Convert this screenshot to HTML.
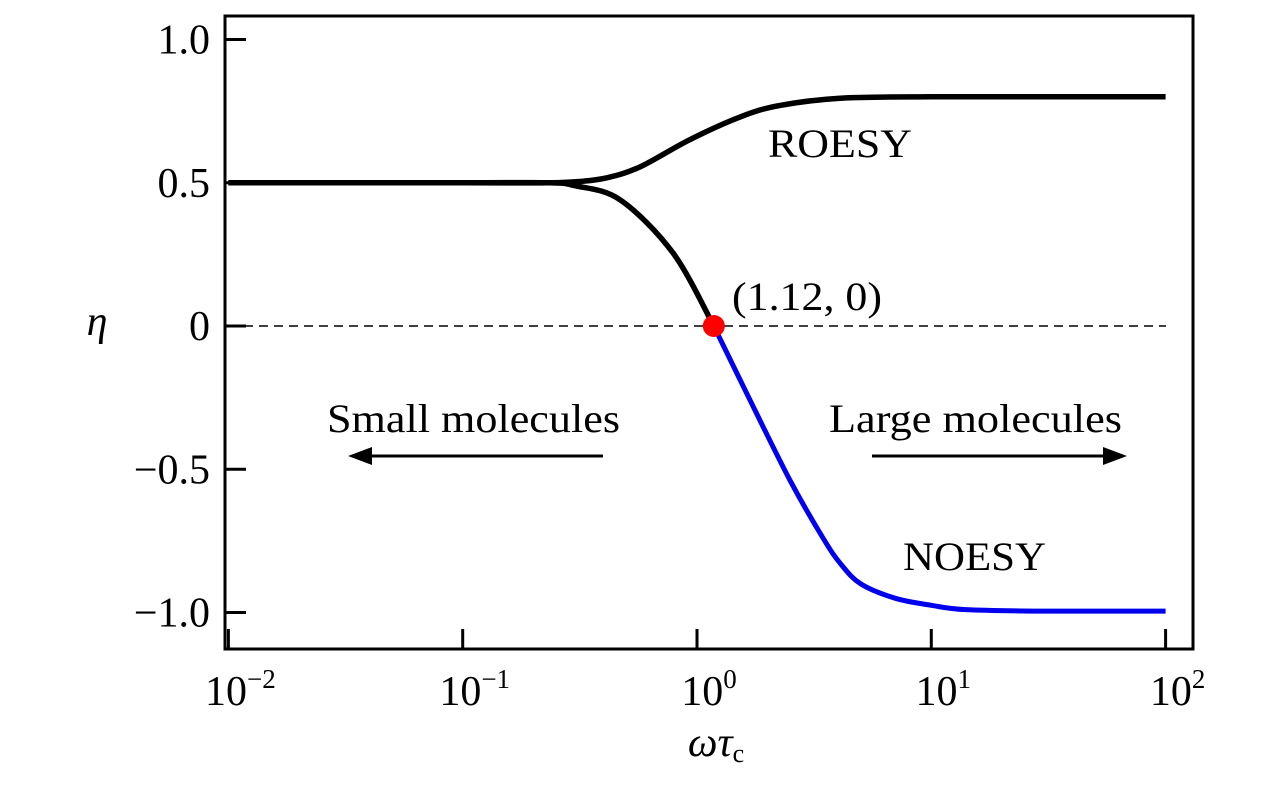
<!DOCTYPE html>
<html><head><meta charset="utf-8"><style>
body{margin:0;background:#fff}
svg text{font-family:"Liberation Serif",serif;fill:#000}
</style></head><body>
<svg id="chart" width="1276" height="787" viewBox="0 0 1276 787" xmlns="http://www.w3.org/2000/svg">
<rect x="225" y="16" width="968" height="633" fill="none" stroke="#000" stroke-width="3"/>
<g id="ticks"></g>
<line x1="229" x2="1166" y1="326" y2="326" stroke="#000" stroke-width="1.5" stroke-dasharray="9,6"/>
<path id="roesy" fill="none" stroke="#000" stroke-width="5.5" stroke-linejoin="round"/>
<path id="noesyTop" fill="none" stroke="#000" stroke-width="5.5" stroke-linejoin="round"/>
<path id="noesyBot" fill="none" stroke="#0000ee" stroke-width="5" stroke-linejoin="round"/>
<circle id="cross" r="11" fill="#ff0000"/>
<text x="768" y="157" font-size="40" textLength="144" lengthAdjust="spacingAndGlyphs">ROESY</text>
<text x="903" y="570" font-size="40" textLength="143" lengthAdjust="spacingAndGlyphs">NOESY</text>
<text x="732" y="310" font-size="40" textLength="150" lengthAdjust="spacingAndGlyphs">(1.12, 0)</text>
<text x="327" y="432" font-size="40" textLength="293" lengthAdjust="spacingAndGlyphs">Small molecules</text>
<text x="829" y="432" font-size="40" textLength="293" lengthAdjust="spacingAndGlyphs">Large molecules</text>
<g><line x1="603" x2="368" y1="456" y2="456" stroke="#000" stroke-width="3"/><polygon points="348,456 372,447 372,465" fill="#000"/></g>
<g><line x1="872" x2="1107" y1="456" y2="456" stroke="#000" stroke-width="3"/><polygon points="1127,456 1103,447 1103,465" fill="#000"/></g>
<text x="97" y="335" font-size="42" font-style="italic" text-anchor="middle">η</text>
<text x="716" y="756" font-size="42" text-anchor="middle"><tspan font-style="italic">ωτ</tspan><tspan font-size="26" dy="6">c</tspan></text>
</svg>
<script>
const xTickExps=[-2,-1,0,1,2];
const yTicks=[1.0,0.5,0,-0.5,-1.0];
const yTickLabels=["1.0","0.5","0","\u22120.5","\u22121.0"];
const roesyX=[0.01,0.1,0.23,0.3,0.41,0.57,0.93,1.53,2.26,4.08,10,30,100];
const roesyY=[0.5,0.5,0.5,0.503,0.517,0.555,0.65,0.73,0.77,0.795,0.8,0.8,0.8];
const noesyX=[0.01,0.1,0.23,0.3,0.47,0.79,1.18,1.63,2.5,3.45,4.1,5,7,10,14,30,100];
const noesyY=[0.5,0.5,0.5,0.49,0.44,0.255,0,-0.235,-0.54,-0.74,-0.83,-0.9,-0.95,-0.975,-0.99,-0.995,-0.995];
const crossX=1.18, crossY=0;
const sx=v=>697+234.3*Math.log10(v);
const sy=v=>326-286.5*v;
const ns="http://www.w3.org/2000/svg";
const g=document.getElementById('ticks');
xTickExps.forEach(e=>{
  const x=sx(Math.pow(10,e));
  const l=document.createElementNS(ns,'line');
  
  
  l.setAttribute('x1',x);l.setAttribute('x2',x);l.setAttribute('y1',629);l.setAttribute('y2',649);
  l.setAttribute('stroke','#000');l.setAttribute('stroke-width',3);g.appendChild(l);
  const t=document.createElementNS(ns,'text');
  
  
  t.setAttribute('x',x+12);t.setAttribute('y',705);t.setAttribute('font-size',42);t.setAttribute('text-anchor','middle');
  t.innerHTML='10<tspan font-size="27" dy="-17">'+(e<0?'\u2212'+(-e):e)+'</tspan>';
  g.appendChild(t);
});
yTicks.forEach((v,i)=>{
  const y=sy(v);
  const l=document.createElementNS(ns,'line');
  
  
  l.setAttribute('x1',225);l.setAttribute('x2',246);l.setAttribute('y1',y);l.setAttribute('y2',y);
  l.setAttribute('stroke','#000');l.setAttribute('stroke-width',3);g.appendChild(l);
  const t=document.createElementNS(ns,'text');
  
  
  t.setAttribute('x',210);t.setAttribute('y',y+14);t.setAttribute('font-size',42);t.setAttribute('text-anchor','end');
  t.textContent=yTickLabels[i];g.appendChild(t);
});
function smooth(xs,ys){
  const p=xs.map((x,i)=>[sx(x),sy(ys[i])]);
  let d='M'+p[0][0].toFixed(1)+','+p[0][1].toFixed(1);
  for(let i=0;i<p.length-1;i++){
    const p0=p[Math.max(0,i-1)],p1=p[i],p2=p[i+1],p3=p[Math.min(p.length-1,i+2)];
    const c1=[p1[0]+(p2[0]-p0[0])/6,p1[1]+(p2[1]-p0[1])/6];
    const c2=[p2[0]-(p3[0]-p1[0])/6,p2[1]-(p3[1]-p1[1])/6];
    d+='C'+c1.map(v=>v.toFixed(1)).join(',')+' '+c2.map(v=>v.toFixed(1)).join(',')+' '+p2[0].toFixed(1)+','+p2[1].toFixed(1);
  }
  return d;
}
document.getElementById('roesy').setAttribute('d',smooth(roesyX,roesyY));
const ci=noesyX.indexOf(crossX);
document.getElementById('noesyTop').setAttribute('d',smooth(noesyX.slice(0,ci+1),noesyY.slice(0,ci+1)));
document.getElementById('noesyBot').setAttribute('d',smooth(noesyX.slice(ci),noesyY.slice(ci)));
const c=document.getElementById('cross');
c.setAttribute('cx',sx(crossX));c.setAttribute('cy',sy(crossY));
</script>
</body></html>
